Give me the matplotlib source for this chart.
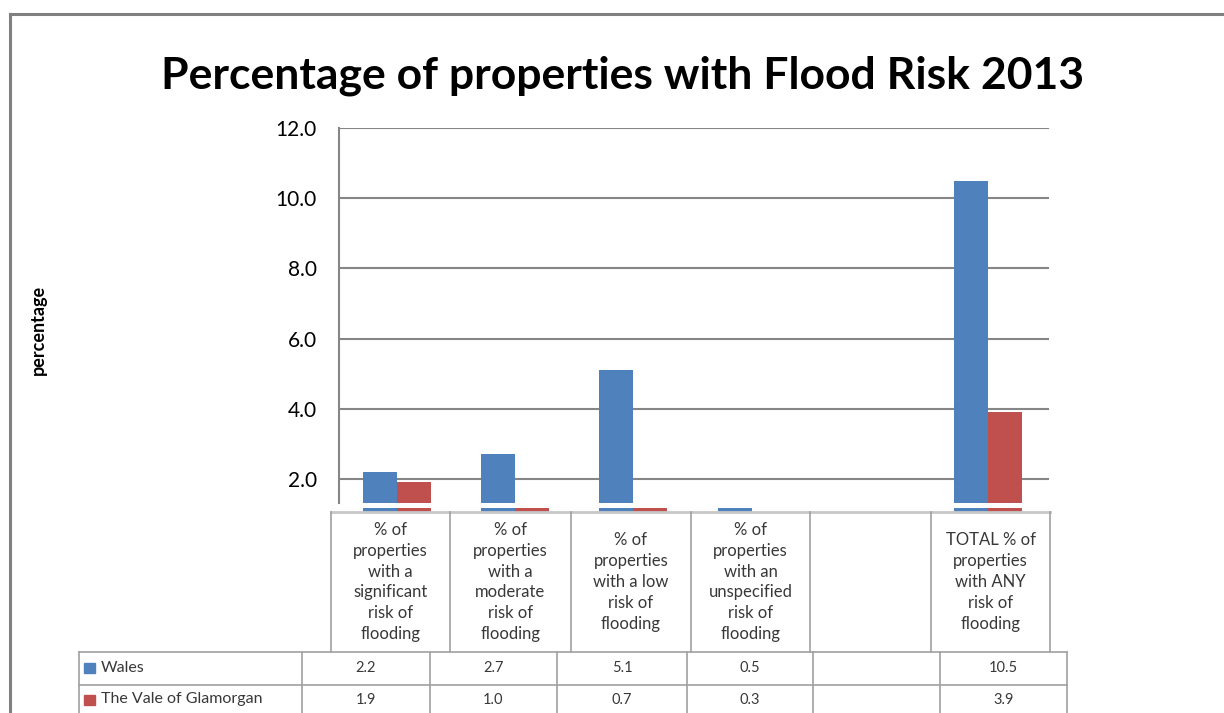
import numpy as np
import matplotlib
matplotlib.use("Agg")
import matplotlib.pyplot as plt
from matplotlib.lines import Line2D
from matplotlib.patches import Rectangle

categories = ["% of\nproperties\nwith a\nsignificant\nrisk of\nflooding",
              "% of\nproperties\nwith a\nmoderate\nrisk of\nflooding",
              "% of\nproperties\nwith a low\nrisk of\nflooding",
              "% of\nproperties\nwith an\nunspecified\nrisk of\nflooding",
              "",
              "TOTAL % of\nproperties\nwith ANY\nrisk of\nflooding"]
series = ["Wales", "The Vale of Glamorgan"]
wales = [2.2, 2.7, 5.1, 0.5, np.nan, 10.5]
vale = [1.9, 1.0, 0.7, 0.3, np.nan, 3.9]
yticks = [2, 4, 6, 8, 10, 12]

W, H = 1224, 713
blue = "#4F81BD"
red = "#C0504D"
grid_c = "#868686"
text_c = "#383838"
plt.rcParams['font.family'] = ['Lato', 'DejaVu Sans']


def fx(x):
    return x / W


def fy(y):
    return 1 - y / H


fig = plt.figure(figsize=(W / 100, H / 100), dpi=100)

# outer frame (top and left edges)
fig.add_artist(Line2D([fx(10), fx(W)], [fy(14), fy(14)], color="#808080", lw=2.2))
fig.add_artist(Line2D([fx(10), fx(10)], [fy(14), fy(H)], color="#808080", lw=2.2))

fig.text(fx(623), fy(76), "Percentage of properties with Flood Risk 2013",
         ha="center", va="center", fontsize=32, fontweight="bold")
fig.text(fx(38), fy(330), "percentage", rotation=90, ha="center", va="center",
         fontsize=13, fontweight="bold")

# main plot area
left, right, top, bottom = 339, 1050, 128, 503
x = np.arange(len(categories))
step = 118.2
xl = (-(397 - left) / step, 5 + (right - 988) / step)
bw = 34 / step

ax = fig.add_axes([fx(left), fy(bottom), fx(right - left), (bottom - top) / H])
ax.bar(x - bw / 2, wales, bw, color=blue)
ax.bar(x + bw / 2, vale, bw, color=red)
ax.set_xlim(xl)
ax.set_ylim(2 - 24 / 35, 12)
for t in yticks:
    ax.axhline(t, xmin=0, xmax=(1048 - left) / (right - left), color=grid_c, lw=1.5, zorder=0)
ax.set_yticks(yticks)
ax.set_yticklabels([f"{t:.1f}" for t in yticks], fontsize=15)
ax.tick_params(axis="y", length=0, pad=16)
ax.set_xticks([])
for s in ["top", "right", "bottom"]:
    ax.spines[s].set_visible(False)
ax.spines["left"].set_color(grid_c)
ax.spines["left"].set_linewidth(1.5)

# thin strip showing the bar bases
ax2 = fig.add_axes([fx(left), fy(511.5), fx(right - left), 4 / H])
ax2.bar(x - bw / 2, wales, bw, color=blue)
ax2.bar(x + bw / 2, vale, bw, color=red)
ax2.set_xlim(xl)
ax2.set_ylim(0.42, 0.52)
ax2.axis("off")

# header cells with category labels
hcols = [331, 450, 571, 691, 810, 931, 1050]
fig.add_artist(Line2D([fx(331), fx(1050)], [fy(512), fy(512)], color="#c8c8c8", lw=2))
for xv in hcols:
    fig.add_artist(Line2D([fx(xv), fx(xv)], [fy(512), fy(652)], color="#a0a0a0", lw=1.2))
for i, lab in enumerate(categories):
    fig.text(fx((hcols[i] + hcols[i + 1]) / 2), fy(582), lab, ha="center", va="center",
             fontsize=12, color=text_c, linespacing=1.38)

# data table rows
rcols = [79, 302, 430, 557, 687, 813, 940, 1067]
rows_y = [652, 685, 716]
for yv in rows_y:
    fig.add_artist(Line2D([fx(79), fx(1067)], [fy(yv), fy(yv)], color="#a0a0a0", lw=1.2))
for xv in rcols:
    fig.add_artist(Line2D([fx(xv), fx(xv)], [fy(652), fy(H)], color="#a0a0a0", lw=1.2))
for r, (name, vals, col) in enumerate(zip(series, [wales, vale], [blue, red])):
    yc = (rows_y[r] + rows_y[r + 1]) / 2 - 1
    fig.add_artist(Rectangle((fx(84), fy(yc + 5)), fx(11), 10 / H, color=col))
    fig.text(fx(101), fy(yc), name, ha="left", va="center", fontsize=11.5, color=text_c)
    for i, v in enumerate(vals):
        txt = "" if np.isnan(v) else f"{v:.1f}"
        fig.text(fx((rcols[i + 1] + rcols[i + 2]) / 2), fy(yc), txt, ha="center",
                 va="center", fontsize=10.5, color=text_c)

fig.savefig("out.png", dpi=100)
